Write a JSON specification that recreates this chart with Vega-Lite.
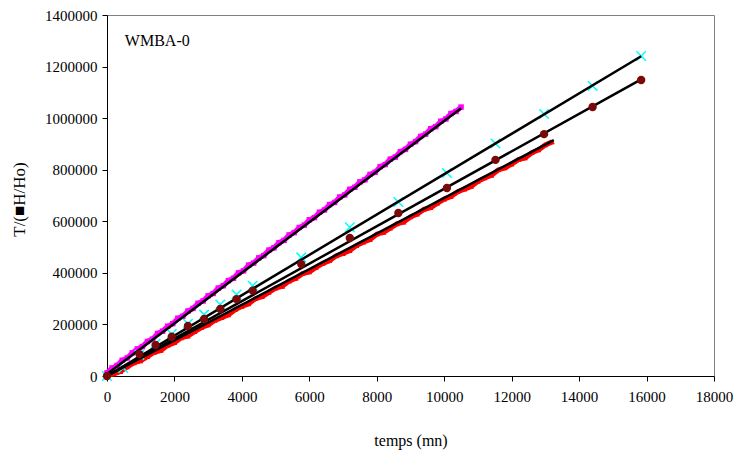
{
  "$schema": "https://vega.github.io/schema/vega-lite/v6.json",
  "width": 607,
  "height": 361,
  "autosize": {"type": "none"},
  "padding": {"left": 107, "top": 15, "right": 26, "bottom": 85},
  "background": "white",
  "config": {
    "view": {"stroke": "#808080", "strokeWidth": 1},
    "font": "Liberation Serif",
    "axis": {
      "grid": false,
      "labelFont": "Liberation Serif",
      "titleFont": "Liberation Serif",
      "labelFontSize": 15,
      "labelColor": "#000000",
      "titleColor": "#000000",
      "titleFontWeight": "normal",
      "domainColor": "#000000",
      "tickColor": "#000000",
      "tickSize": 5
    }
  },
  "datasets": {
    "mag": [
      {"t": 0, "v": 12000}, {"t": 150, "v": 31000}, {"t": 300, "v": 41000}, {"t": 450, "v": 61000},
      {"t": 600, "v": 70000}, {"t": 750, "v": 90000}, {"t": 900, "v": 105000}, {"t": 1050, "v": 114000},
      {"t": 1200, "v": 134000}, {"t": 1350, "v": 143000}, {"t": 1500, "v": 165000}, {"t": 1650, "v": 174000},
      {"t": 1800, "v": 193000}, {"t": 1950, "v": 203000}, {"t": 2100, "v": 224000}, {"t": 2250, "v": 232000},
      {"t": 2400, "v": 252000}, {"t": 2550, "v": 262000}, {"t": 2700, "v": 282000}, {"t": 2850, "v": 291000},
      {"t": 3000, "v": 311000}, {"t": 3150, "v": 320000}, {"t": 3300, "v": 341000}, {"t": 3450, "v": 350000},
      {"t": 3600, "v": 370000}, {"t": 3750, "v": 379000}, {"t": 3900, "v": 400000}, {"t": 4050, "v": 408000},
      {"t": 4200, "v": 430000}, {"t": 4350, "v": 438000}, {"t": 4500, "v": 458000}, {"t": 4650, "v": 467000},
      {"t": 4800, "v": 488000}, {"t": 4950, "v": 497000}, {"t": 5100, "v": 517000}, {"t": 5250, "v": 526000},
      {"t": 5400, "v": 547000}, {"t": 5550, "v": 556000}, {"t": 5700, "v": 576000}, {"t": 5850, "v": 585000},
      {"t": 6000, "v": 606000}, {"t": 6150, "v": 614000}, {"t": 6300, "v": 635000}, {"t": 6450, "v": 644000},
      {"t": 6600, "v": 665000}, {"t": 6750, "v": 673000}, {"t": 6900, "v": 694000}, {"t": 7050, "v": 702000},
      {"t": 7200, "v": 724000}, {"t": 7350, "v": 732000}, {"t": 7500, "v": 753000}, {"t": 7650, "v": 761000},
      {"t": 7800, "v": 782000}, {"t": 7950, "v": 790000}, {"t": 8100, "v": 812000}, {"t": 8250, "v": 820000},
      {"t": 8400, "v": 841000}, {"t": 8550, "v": 849000}, {"t": 8700, "v": 870000}, {"t": 8850, "v": 879000},
      {"t": 9000, "v": 899000}, {"t": 9150, "v": 909000}, {"t": 9300, "v": 929000}, {"t": 9450, "v": 938000},
      {"t": 9600, "v": 959000}, {"t": 9750, "v": 967000}, {"t": 9900, "v": 988000}, {"t": 10050, "v": 997000},
      {"t": 10200, "v": 1018000}, {"t": 10350, "v": 1026000}, {"t": 10500, "v": 1043000}
    ],
    "red": [
      {"t": 0, "v": 1000}, {"t": 200, "v": 8000}, {"t": 400, "v": 17000}, {"t": 600, "v": 35000},
      {"t": 800, "v": 51000}, {"t": 1000, "v": 59000}, {"t": 1200, "v": 75000}, {"t": 1400, "v": 92000},
      {"t": 1600, "v": 99000}, {"t": 1800, "v": 119000}, {"t": 2000, "v": 129000}, {"t": 2200, "v": 148000},
      {"t": 2400, "v": 155000}, {"t": 2600, "v": 172000}, {"t": 2800, "v": 188000}, {"t": 3000, "v": 198000},
      {"t": 3200, "v": 216000}, {"t": 3400, "v": 226000}, {"t": 3600, "v": 237000}, {"t": 3800, "v": 257000},
      {"t": 4000, "v": 270000}, {"t": 4200, "v": 280000}, {"t": 4400, "v": 300000}, {"t": 4600, "v": 308000},
      {"t": 4800, "v": 324000}, {"t": 5000, "v": 341000}, {"t": 5200, "v": 348000}, {"t": 5400, "v": 368000},
      {"t": 5600, "v": 379000}, {"t": 5800, "v": 397000}, {"t": 6000, "v": 404000}, {"t": 6200, "v": 421000},
      {"t": 6400, "v": 437000}, {"t": 6600, "v": 447000}, {"t": 6800, "v": 466000}, {"t": 7000, "v": 475000},
      {"t": 7200, "v": 486000}, {"t": 7400, "v": 506000}, {"t": 7600, "v": 519000}, {"t": 7800, "v": 529000},
      {"t": 8000, "v": 550000}, {"t": 8200, "v": 557000}, {"t": 8400, "v": 573000}, {"t": 8600, "v": 590000},
      {"t": 8800, "v": 597000}, {"t": 9000, "v": 617000}, {"t": 9200, "v": 628000}, {"t": 9400, "v": 646000},
      {"t": 9600, "v": 653000}, {"t": 9800, "v": 670000}, {"t": 10000, "v": 686000}, {"t": 10200, "v": 696000},
      {"t": 10400, "v": 715000}, {"t": 10600, "v": 725000}, {"t": 10800, "v": 735000}, {"t": 11000, "v": 755000},
      {"t": 11200, "v": 768000}, {"t": 11400, "v": 778000}, {"t": 11600, "v": 799000}, {"t": 11800, "v": 807000},
      {"t": 12000, "v": 822000}, {"t": 12200, "v": 839000}, {"t": 12400, "v": 846000}, {"t": 12600, "v": 866000},
      {"t": 12800, "v": 877000}, {"t": 13000, "v": 896000}, {"t": 13200, "v": 908000}
    ],
    "cyan": [
      {"t": 0, "v": 0}, {"t": 480, "v": 31000}, {"t": 960, "v": 82000}, {"t": 1440, "v": 125000},
      {"t": 1920, "v": 163000}, {"t": 2400, "v": 203000}, {"t": 2880, "v": 238000}, {"t": 3360, "v": 277000},
      {"t": 3840, "v": 316000}, {"t": 4320, "v": 350000}, {"t": 5760, "v": 460000}, {"t": 7200, "v": 577000},
      {"t": 8640, "v": 675000}, {"t": 10080, "v": 787000}, {"t": 11520, "v": 902000}, {"t": 12960, "v": 1016000},
      {"t": 14400, "v": 1125000}, {"t": 15840, "v": 1241000}
    ],
    "circ": [
      {"t": 0, "v": 0}, {"t": 960, "v": 85000}, {"t": 1440, "v": 120000}, {"t": 1920, "v": 152000},
      {"t": 2400, "v": 194000}, {"t": 2880, "v": 221000}, {"t": 3360, "v": 260000}, {"t": 3840, "v": 298000},
      {"t": 4320, "v": 331000}, {"t": 5760, "v": 434000}, {"t": 7200, "v": 535000}, {"t": 8640, "v": 632000},
      {"t": 10080, "v": 729000}, {"t": 11520, "v": 838000}, {"t": 12960, "v": 938000}, {"t": 14400, "v": 1043000},
      {"t": 15840, "v": 1148000}
    ],
    "fits": [
      {"s": "mag", "t": 0, "v": 8000}, {"s": "mag", "t": 10500, "v": 1038000},
      {"s": "red", "t": 0, "v": 0}, {"s": "red", "t": 13250, "v": 915000},
      {"s": "cyan", "t": 0, "v": 0}, {"s": "cyan", "t": 15840, "v": 1240000},
      {"s": "circ", "t": 0, "v": 0}, {"s": "circ", "t": 15840, "v": 1150000}
    ],
    "label": [{"t": 530, "v": 1300000, "txt": "WMBA-0"}]
  },
  "encoding": {
    "x": {
      "field": "t", "type": "quantitative",
      "scale": {"domain": [0, 18000], "nice": false, "zero": false},
      "axis": {
        "values": [0, 2000, 4000, 6000, 8000, 10000, 12000, 14000, 16000, 18000],
        "format": "d", "labelPadding": 8, "labelFlush": false,
        "title": "temps (mn)", "titleFontSize": 16, "titlePadding": 28
      }
    },
    "y": {
      "field": "v", "type": "quantitative",
      "scale": {"domain": [0, 1400000], "nice": false, "zero": false},
      "axis": {
        "values": [0, 200000, 400000, 600000, 800000, 1000000, 1200000, 1400000],
        "format": "d", "labelPadding": 5, "labelFlush": false,
        "title": "T/(■H/Ho)", "titleFontSize": 17,
        "titleX": -88, "titleY": 184, "titleAngle": -90,
        "titleAlign": "center", "titleBaseline": "middle"
      }
    }
  },
  "layer": [
    {"data": {"name": "mag"}, "mark": {"type": "line", "color": "#FF00FF", "strokeWidth": 5}, "encoding": {}},
    {"data": {"name": "mag"}, "mark": {"type": "point", "shape": "square", "filled": true, "color": "#FF00FF", "size": 30, "opacity": 1}, "encoding": {}},
    {"data": {"name": "red"}, "mark": {"type": "line", "color": "#FF0000", "strokeWidth": 5}, "encoding": {}},
    {"data": {"name": "red"}, "mark": {"type": "point", "shape": "triangle-up", "filled": true, "color": "#FF0000", "size": 30, "opacity": 1}, "encoding": {}},
    {"data": {"name": "cyan"}, "mark": {"type": "point", "shape": "M-1,-1L1,1M-1,1L1,-1", "filled": false, "color": "#00FFFF", "strokeWidth": 1.5, "size": 90, "opacity": 1}, "encoding": {}},
    {"data": {"name": "fits"}, "mark": {"type": "line", "color": "#000000", "strokeWidth": 2.5}, "encoding": {"detail": {"field": "s"}}},
    {"data": {"name": "circ"}, "mark": {"type": "point", "shape": "circle", "filled": true, "color": "#7A0A0A", "size": 70, "opacity": 1}, "encoding": {}},
    {"data": {"name": "label"}, "mark": {"type": "text", "align": "left", "baseline": "middle", "font": "Liberation Serif", "fontSize": 16, "color": "#000000"}, "encoding": {"text": {"field": "txt"}}}
  ]
}
